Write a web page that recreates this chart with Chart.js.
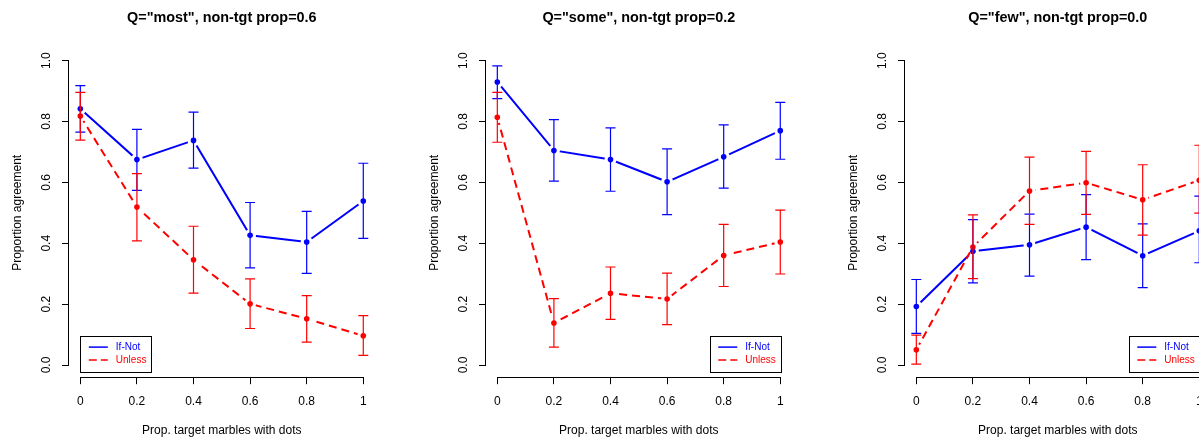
<!DOCTYPE html>
<html>
<head>
<meta charset="utf-8">
<script src="https://cdn.jsdelivr.net/npm/chart.js@4/dist/chart.umd.min.js"></script>
<style>
  html, body { margin: 0; padding: 0; background: #fff; }
  body { width: 1199px; height: 441px; overflow: hidden; position: relative; }
  .panel { position: absolute; top: 0; width: 417px; height: 441px; }
</style>
</head>
<body>
<div class="panel" style="left:0px"><canvas id="pMost" width="417" height="441"></canvas></div>
<div class="panel" style="left:417px"><canvas id="pSome" width="417" height="441"></canvas></div>
<div class="panel" style="left:836px"><canvas id="pFew" width="417" height="441"></canvas></div>
<script>
// proportion of target marbles with dots (x categories)
var propDots = [0, 0.2, 0.4, 0.6, 0.8, 1];
var xTickLabels = ['0', '0.2', '0.4', '0.6', '0.8', '1'];
var yTickValues = [0, 0.2, 0.4, 0.6, 0.8, 1];
var yTickLabels = ['0.0', '0.2', '0.4', '0.6', '0.8', '1.0'];
var seriesNames = ['If-Not', 'Unless'];

// Q="most", non-tgt prop=0.6
var mostIfNot   = [0.842, 0.675, 0.738, 0.426, 0.404, 0.539];
var mostIfNotLo = [0.765, 0.574, 0.647, 0.319, 0.301, 0.416];
var mostIfNotHi = [0.918, 0.774, 0.831, 0.534, 0.505, 0.663];
var mostUnless   = [0.818, 0.519, 0.346, 0.201, 0.152, 0.096];
var mostUnlessLo = [0.739, 0.408, 0.236, 0.120, 0.075, 0.032];
var mostUnlessHi = [0.896, 0.629, 0.456, 0.283, 0.228, 0.162];

// Q="some", non-tgt prop=0.2
var someIfNot   = [0.930, 0.705, 0.675, 0.602, 0.684, 0.770];
var someIfNotLo = [0.875, 0.604, 0.571, 0.494, 0.581, 0.676];
var someIfNotHi = [0.983, 0.806, 0.779, 0.710, 0.789, 0.863];
var someUnless   = [0.814, 0.138, 0.236, 0.217, 0.360, 0.404];
var someUnlessLo = [0.732, 0.059, 0.150, 0.133, 0.258, 0.299];
var someUnlessHi = [0.896, 0.218, 0.322, 0.302, 0.462, 0.509];

// Q="few", non-tgt prop=0.0
var fewIfNot   = [0.192, 0.374, 0.395, 0.453, 0.359, 0.441];
var fewIfNotLo = [0.104, 0.270, 0.292, 0.346, 0.254, 0.336];
var fewIfNotHi = [0.281, 0.478, 0.496, 0.560, 0.464, 0.555];
var fewUnless   = [0.050, 0.388, 0.572, 0.599, 0.543, 0.607];
var fewUnlessLo = [0.003, 0.284, 0.462, 0.495, 0.427, 0.499];
var fewUnlessHi = [0.098, 0.493, 0.683, 0.702, 0.658, 0.722];

var BLUE = '#0000ff';
var RED = '#ff0000';
var FONT = '"Liberation Sans", Arial, Helvetica, sans-serif';

Chart.defaults.font.family = FONT;
Chart.defaults.color = '#000';

function pts(vals) {
    return vals.map(function (v, i) { return {x: propDots[i], y: v}; });
}

// cut the connecting line around each point, like R's type="b"
var gapPlugin = {
    id: 'gapPlugin',
    beforeDatasetDraw: function (chart, args) {
        var ds = chart.data.datasets[args.index];
        if (!ds.gapped) return;
        var ctx = chart.ctx, gap = 6;
        ctx.save();
        ctx.beginPath();
        ctx.rect(0, 0, chart.width, chart.height);
        args.meta.data.forEach(function (p) {
            ctx.moveTo(p.x + gap, p.y);
            ctx.arc(p.x, p.y, gap, 0, Math.PI * 2);
        });
        ctx.clip('evenodd');
    },
    afterDatasetDraw: function (chart, args) {
        if (chart.data.datasets[args.index].gapped) chart.ctx.restore();
    }
};

// R style axis lines: only from first to last tick
var axisLines = {
    id: 'axisLines',
    beforeDatasetsDraw: function (chart) {
        var ctx = chart.ctx, x = chart.scales.x, y = chart.scales.y;
        var bottom = Math.round(chart.chartArea.bottom) + 0.5;
        var left = Math.round(chart.chartArea.left) - 0.5;
        ctx.save();
        ctx.strokeStyle = '#000';
        ctx.lineWidth = 1;
        ctx.beginPath();
        ctx.moveTo(x.getPixelForValue(propDots[0]), bottom);
        ctx.lineTo(x.getPixelForValue(propDots[propDots.length - 1]), bottom);
        ctx.moveTo(left, y.getPixelForValue(yTickValues[0]));
        ctx.lineTo(left, y.getPixelForValue(yTickValues[yTickValues.length - 1]));
        ctx.stroke();
        ctx.restore();
    }
};

var errorBars = {
    id: 'errorBars',
    afterDatasetsDraw: function (chart, args, opts) {
        var ctx = chart.ctx, x = chart.scales.x, y = chart.scales.y, cap = 5;
        ctx.save();
        ctx.lineWidth = 1.2;
        opts.bars.forEach(function (b) {
            ctx.strokeStyle = b.color;
            ctx.beginPath();
            for (var i = 0; i < propDots.length; i++) {
                var px = x.getPixelForValue(propDots[i]);
                var lo = y.getPixelForValue(b.lo[i]);
                var hi = y.getPixelForValue(b.hi[i]);
                ctx.moveTo(px, lo); ctx.lineTo(px, hi);
                ctx.moveTo(px - cap, lo); ctx.lineTo(px + cap, lo);
                ctx.moveTo(px - cap, hi); ctx.lineTo(px + cap, hi);
            }
            ctx.stroke();
        });
        ctx.restore();
    }
};

var boxLegend = {
    id: 'boxLegend',
    afterDraw: function (chart, args, opts) {
        var ctx = chart.ctx, x = chart.scales.x, y = chart.scales.y;
        var w = 70.5, h = 35.5;
        var bottom = y.getPixelForValue(-0.02);
        var left = opts.side === 'left' ? x.getPixelForValue(0) : x.getPixelForValue(1) - w;
        var top = bottom - h;
        ctx.save();
        ctx.strokeStyle = '#000';
        ctx.lineWidth = 1;
        ctx.strokeRect(Math.round(left) + 0.5, Math.round(top) + 0.5, Math.round(w), Math.round(h));
        ctx.font = '10px ' + FONT;
        ctx.textBaseline = 'middle';
        ctx.textAlign = 'left';
        opts.items.forEach(function (it, i) {
            var ly = top + 11.5 + i * 13;
            ctx.strokeStyle = it.color;
            ctx.lineWidth = 1.5;
            ctx.setLineDash(it.dash);
            ctx.beginPath();
            ctx.moveTo(left + 8.5, ly);
            ctx.lineTo(left + 27.5, ly);
            ctx.stroke();
            ctx.setLineDash([]);
            ctx.fillStyle = it.color;
            ctx.fillText(it.label, left + 35.5, ly);
        });
        ctx.restore();
    }
};

function makePanel(id, title, ifNot, ifNotLo, ifNotHi, unless, unlessLo, unlessHi, side) {
    var config = {
        type: 'line',
        data: {
            datasets: [
                {label: seriesNames[1] + ' pts', data: pts(unless), showLine: false,
                 pointRadius: 2.8, pointBorderWidth: 0, pointBackgroundColor: RED},
                {label: seriesNames[1], data: pts(unless), gapped: true, borderColor: RED,
                 borderWidth: 2, borderDash: [8, 5], pointRadius: 0, tension: 0, fill: false},
                {label: seriesNames[0] + ' pts', data: pts(ifNot), showLine: false,
                 pointRadius: 2.8, pointBorderWidth: 0, pointBackgroundColor: BLUE},
                {label: seriesNames[0], data: pts(ifNot), gapped: true, borderColor: BLUE,
                 borderWidth: 2, pointRadius: 0, tension: 0, fill: false}
            ]
        },
        options: {
            responsive: false,
            animation: false,
            events: [],
            devicePixelRatio: 1,
            layout: {padding: {left: 0, right: 42.4, top: 0, bottom: 0}},
            scales: {
                x: {
                    type: 'linear', min: -0.04, max: 1.04,
                    afterBuildTicks: function (s) { s.ticks = propDots.map(function (v) { return {value: v}; }); },
                    afterFit: function (s) { s.height = 63.8; },
                    ticks: {autoSkip: false, minRotation: 0, maxRotation: 0, padding: 10, color: '#000',
                            font: {size: 12}, callback: function (v, i) { return xTickLabels[i]; }},
                    grid: {drawOnChartArea: false, drawTicks: true, tickLength: 7, color: '#000', lineWidth: 1},
                    border: {display: false},
                    title: {display: true, text: 'Prop. target marbles with dots', color: '#000',
                            font: {size: 12}, padding: {top: 0, bottom: 2.8}}
                },
                y: {
                    type: 'linear', min: -0.04, max: 1.04,
                    afterBuildTicks: function (s) { s.ticks = yTickValues.map(function (v) { return {value: v}; }); },
                    afterFit: function (s) { s.width = 69; },
                    ticks: {autoSkip: false, minRotation: 90, maxRotation: 90, crossAlign: 'center', padding: 6.7,
                            color: '#000', font: {size: 12}, callback: function (v, i) { return yTickLabels[i]; }},
                    grid: {drawOnChartArea: false, drawTicks: true, tickLength: 7, color: '#000', lineWidth: 1},
                    border: {display: false},
                    title: {display: true, text: 'Proportion agreement', color: '#000',
                            font: {size: 12}, padding: {top: 10.5, bottom: 0}}
                }
            },
            plugins: {
                legend: {display: false},
                tooltip: {enabled: false},
                title: {display: true, text: title, fullSize: false, color: '#000',
                        font: {size: 14.4, weight: 'bold'}, padding: {top: 9.2, bottom: 22}},
                errorBars: {bars: [
                    {lo: ifNotLo, hi: ifNotHi, color: BLUE},
                    {lo: unlessLo, hi: unlessHi, color: RED}
                ]},
                boxLegend: {side: side, items: [
                    {label: seriesNames[0], color: BLUE, dash: []},
                    {label: seriesNames[1], color: RED, dash: [8, 4]}
                ]}
            }
        },
        plugins: [gapPlugin, axisLines, errorBars, boxLegend]
    };
    return new Chart(document.getElementById(id), config);
}

var mostChart = makePanel('pMost', 'Q="most", non-tgt prop=0.6',
    mostIfNot, mostIfNotLo, mostIfNotHi, mostUnless, mostUnlessLo, mostUnlessHi, 'left');
var someChart = makePanel('pSome', 'Q="some", non-tgt prop=0.2',
    someIfNot, someIfNotLo, someIfNotHi, someUnless, someUnlessLo, someUnlessHi, 'right');
var fewChart = makePanel('pFew', 'Q="few", non-tgt prop=0.0',
    fewIfNot, fewIfNotLo, fewIfNotHi, fewUnless, fewUnlessLo, fewUnlessHi, 'right');
</script>
</body>
</html>
